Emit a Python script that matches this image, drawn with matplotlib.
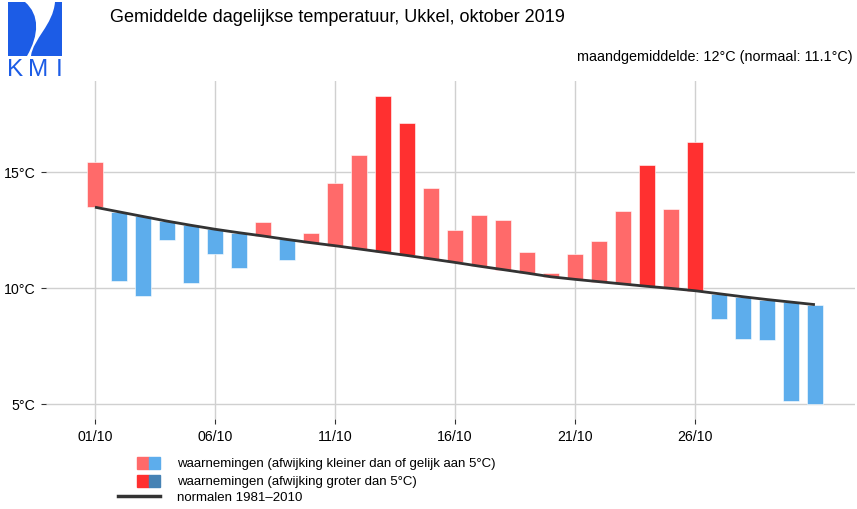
import matplotlib
matplotlib.use("Agg")
import matplotlib.pyplot as plt
from matplotlib.patches import Rectangle, PathPatch
from matplotlib.path import Path
from matplotlib.lines import Line2D

plt.rcParams["font.family"] = ["Liberation Sans", "DejaVu Sans"]

days = list(range(1, 32))
observed = [15.44, 10.31, 9.64, 12.06, 10.22, 11.47, 10.88, 12.84, 11.19, 12.38,
            14.51, 15.73, 18.26, 17.13, 14.30, 12.49, 13.15, 12.93, 11.55, 10.66,
            11.47, 12.03, 13.31, 15.31, 13.41, 16.29, 8.66, 7.80, 7.77, 5.13, 5.00]
normal = [13.48, 13.28, 13.08, 12.88, 12.70, 12.53, 12.38, 12.24, 12.09, 11.95,
          11.82, 11.68, 11.54, 11.40, 11.25, 11.10, 10.94, 10.79, 10.64, 10.48,
          10.37, 10.27, 10.17, 10.07, 9.98, 9.88, 9.75, 9.62, 9.50, 9.39, 9.28]
tick_days = [1, 6, 11, 16, 21, 26]
tick_labels = ["01/10", "06/10", "11/10", "16/10", "21/10", "26/10"]
y_ticks = [5, 10, 15]
y_labels = ["5°C", "10°C", "15°C"]

RED_LIGHT = "#FF6A6A"
RED_DARK = "#FF3030"
BLUE_LIGHT = "#5DADEC"
BLUE_DARK = "#4682B4"
KMI_BLUE = "#1C5CE6"

colors = []
for o, n in zip(observed, normal):
    d = o - n
    if d >= 0:
        colors.append(RED_DARK if d > 5 else RED_LIGHT)
    else:
        colors.append(BLUE_DARK if d < -5 else BLUE_LIGHT)

W, H = 857, 510
fig = plt.figure(figsize=(W / 100, H / 100), dpi=100)
ax = fig.add_axes([46 / W, 1 - 420 / H, (855 - 46) / W, (420 - 82) / H])

heights = [o - n for o, n in zip(observed, normal)]
ax.bar(days, heights, bottom=normal, width=0.64, color=colors,
       edgecolor="white", linewidth=0.4, zorder=2)
ax.plot(days, normal, color="#333333", linewidth=2.0, zorder=3,
        solid_capstyle="butt")

ax.set_xlim(-1.04, 32.67)
ax.set_ylim(4.35, 18.92)
ax.set_xticks(tick_days)
ax.set_xticklabels(tick_labels)
ax.set_yticks(y_ticks)
ax.set_yticklabels(y_labels)
ax.grid(True, color="#D0D0D0", linewidth=1.0, zorder=0)
ax.set_axisbelow(True)
for s in ax.spines.values():
    s.set_visible(False)
ax.tick_params(axis="both", length=3.5, width=0.8, color="#333333",
               labelsize=10.2, labelcolor="black", pad=4)

# title and subtitle
fig.text(110 / W, 1 - 17 / H, "Gemiddelde dagelijkse temperatuur, Ukkel, oktober 2019",
         fontsize=13, ha="left", va="center")
fig.text(853 / W, 1 - 57 / H, "maandgemiddelde: 12°C (normaal: 11.1°C)",
         fontsize=10.4, ha="right", va="center")

# KMI logo (axes units = pixels)
lax = fig.add_axes([0, 1 - 80 / H, 70 / W, 80 / H])
lax.set_xlim(0, 70)
lax.set_ylim(80, 0)
lax.axis("off")
lax.add_patch(Rectangle((8, 3), 54, 54, color=KMI_BLUE, lw=0))
verts = [(25, 3), (40, 16), (39, 36), (27, 57),
         (31, 57), (33, 40), (53, 26), (55, 3),
         (25, 3)]
codes = [Path.MOVETO, Path.CURVE4, Path.CURVE4, Path.CURVE4,
         Path.LINETO, Path.CURVE4, Path.CURVE4, Path.CURVE4,
         Path.CLOSEPOLY]
lax.add_patch(PathPatch(Path(verts, codes), facecolor="white", lw=0))
for letter, lx in [("K", 15.5), ("M", 38), ("I", 59)]:
    lax.text(lx, 75.5, letter, color=KMI_BLUE, fontsize=17.5, ha="center", va="baseline")

# legend
def px(x, y):
    return x / W, 1 - y / H

rows = [(464, RED_LIGHT, BLUE_LIGHT, "waarnemingen (afwijking kleiner dan of gelijk aan 5°C)"),
        (482, RED_DARK, BLUE_DARK, "waarnemingen (afwijking groter dan 5°C)")]
for yc, c1, c2, label in rows:
    x0, y0 = px(137, yc + 6)
    fig.patches.append(Rectangle((x0, y0), 11.5 / W, 12 / H, color=c1,
                                 transform=fig.transFigure, figure=fig))
    x1, _ = px(148.5, yc + 6)
    fig.patches.append(Rectangle((x1, y0), 11.5 / W, 12 / H, color=c2,
                                 transform=fig.transFigure, figure=fig))
    tx, ty = px(177, yc)
    fig.text(tx, ty, label, fontsize=9.5, ha="left", va="center")
lx0, ly = px(118, 497)
lx1, _ = px(160, 497)
fig.lines.append(Line2D([lx0, lx1], [ly, ly], color="#333333", linewidth=2.5,
                        transform=fig.transFigure, figure=fig))
tx, ty = px(177, 498)
fig.text(tx, ty, "normalen 1981\u20132010", fontsize=9.5, ha="left", va="center")

fig.savefig("out.png", dpi=100)
